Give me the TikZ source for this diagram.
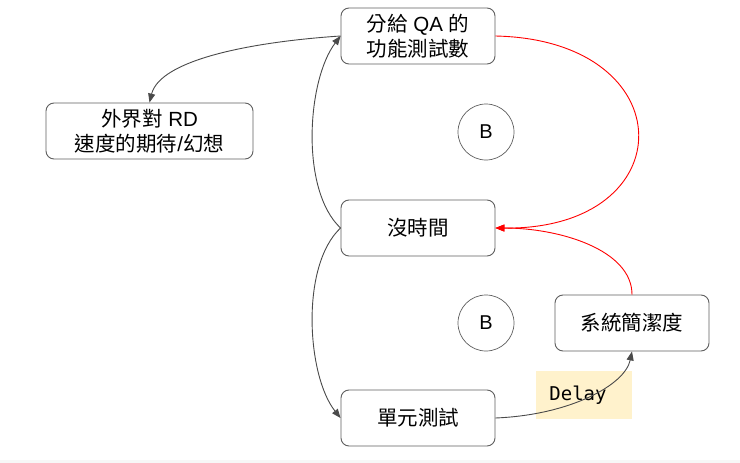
\documentclass[tikz,border=0pt]{standalone}
\usepackage{fontspec}
\setmainfont{Liberation Sans}
\newfontfamily\cjk{Noto Sans CJK TC}
\newfontfamily\monof{DejaVu Sans Mono}
\usetikzlibrary{arrows.meta}
\definecolor{boxline}{HTML}{5F5F5F}
\definecolor{arrline}{HTML}{4A4A4A}
\definecolor{delayfill}{HTML}{FFF2CC}
\begin{document}
\begin{tikzpicture}[x=1pt,y=-1pt,
  box/.style={draw=boxline,line width=0.9pt,rounded corners=8pt,minimum width=154pt,minimum height=56pt,align=center,inner sep=0pt,font=\fontsize{20.5}{25.5}\selectfont},
  circ/.style={draw=boxline,line width=0.7pt,circle,minimum size=56pt,inner sep=0pt,font=\fontsize{20}{24}\selectfont},
  arr/.style={draw=arrline,line width=0.9pt,-{Triangle[length=9pt,width=7pt]}},
  redarr/.style={draw=red,line width=0.9pt,-{Triangle[length=9pt,width=7pt]}}]
\useasboundingbox (0,0) rectangle (740,463);
\fill[white] (0,0) rectangle (740,463);
\fill[black!3] (0,460) rectangle (740,463);
\node[box] (qa) at (418,36) {{\cjk 分給} QA {\cjk 的}\\{\cjk 功能測試數}};
\node[box,minimum width=207pt] (ext) at (149.5,131) {{\cjk 外界對} RD\\{\cjk 速度的期待}/{\cjk 幻想}};
\node[box] (time) at (418,228) {\cjk 沒時間};
\node[box] (sys) at (632,323) {\cjk 系統簡潔度};
\node[box] (unit) at (418,418) {\cjk 單元測試};
\node[circ] (b1) at (486,132) {B};
\node[circ] (b2) at (486,323) {B};
\node[fill=delayfill,minimum width=96pt,minimum height=48pt,inner sep=0pt] (delay) at (584,395) {};
\node[font=\monof\fontsize{19}{22}\selectfont,inner sep=0pt] (delaytxt) at (578,395) {Delay};
\draw[arr] (qa.west) .. controls (250,42) and (160,60) .. (ext.north);
\draw[arr] (time.west) .. controls (300,190) and (307,80) .. (qa.west);
\draw[arr] (time.west) .. controls (300,266) and (307,376) .. (unit.west);
\draw[redarr] (qa.east) .. controls (685,40) and (685,230) .. (time.east);
\draw[redarr] (sys.north) .. controls (632,250) and (560,228) .. (time.east);
\draw[arr] (unit.east) .. controls (570,415) and (625,385) .. (sys.south);
\end{tikzpicture}
\end{document}
